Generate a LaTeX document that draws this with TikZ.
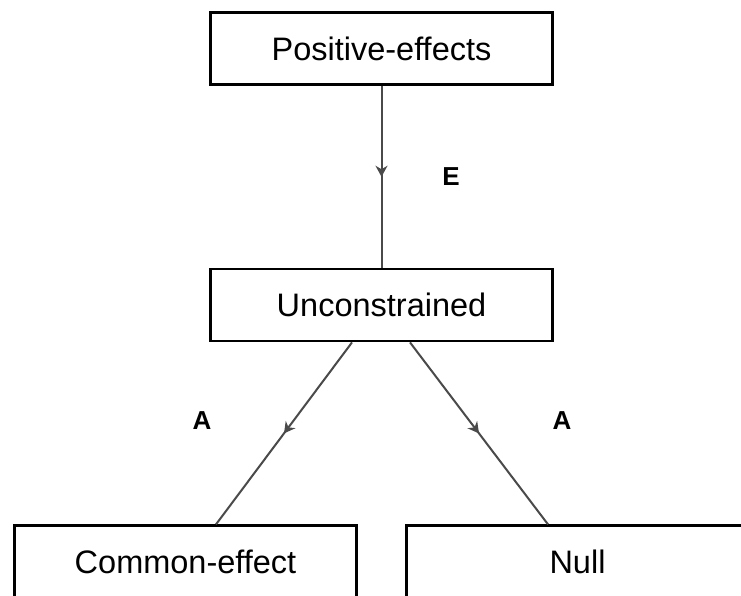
\documentclass[tikz,border=0pt]{standalone}
\usepackage{fontspec}
\setmainfont{Liberation Sans}
\usepackage{tikz}
\usetikzlibrary{arrows.meta,decorations.markings}
\definecolor{linegray}{HTML}{4A4A4A}
\tikzset{
  box/.style={draw=black, line width=2.8pt, fill=white, minimum width=342pt,
    minimum height=72pt, inner sep=0pt, font=\fontsize{32.5}{38}\selectfont},
  flow/.style={draw=linegray, line width=2pt, postaction={decorate},
    decoration={markings, mark=at position 0.5 with
      {\arrow[linegray]{Stealth[length=11pt,width=12pt,inset=3.5pt]}}}},
  lbl/.style={font=\fontsize{26}{30}\selectfont\bfseries, inner sep=0pt}
}
\begin{document}
\begin{tikzpicture}[x=1pt,y=-1pt]
\useasboundingbox (0,0) rectangle (741,596);
\clip (0,0) rectangle (741,596);
 \node[box] (pos) at (381.5,48.5) {Positive-effects};
 \node[box] (unc) at (381.5,305) {Unconstrained};
 \node[box] (com) at (185.5,561.8) {Common-effect};
 \node[box] (nul) at (577.5,561.8) {Null};
 \draw[flow] (pos.south) -- (unc.north);
 \draw[flow] ([xshift=-29.5pt]unc.south) -- ([xshift=30.5pt]com.north);
 \draw[flow] ([xshift=28.5pt]unc.south) -- ([xshift=-29.5pt]nul.north);
 \node[lbl] (e) at (451,177) {E};
 \node[lbl] (a1) at (202,421) {A};
 \node[lbl] (a2) at (562,421) {A};
\end{tikzpicture}
\end{document}
